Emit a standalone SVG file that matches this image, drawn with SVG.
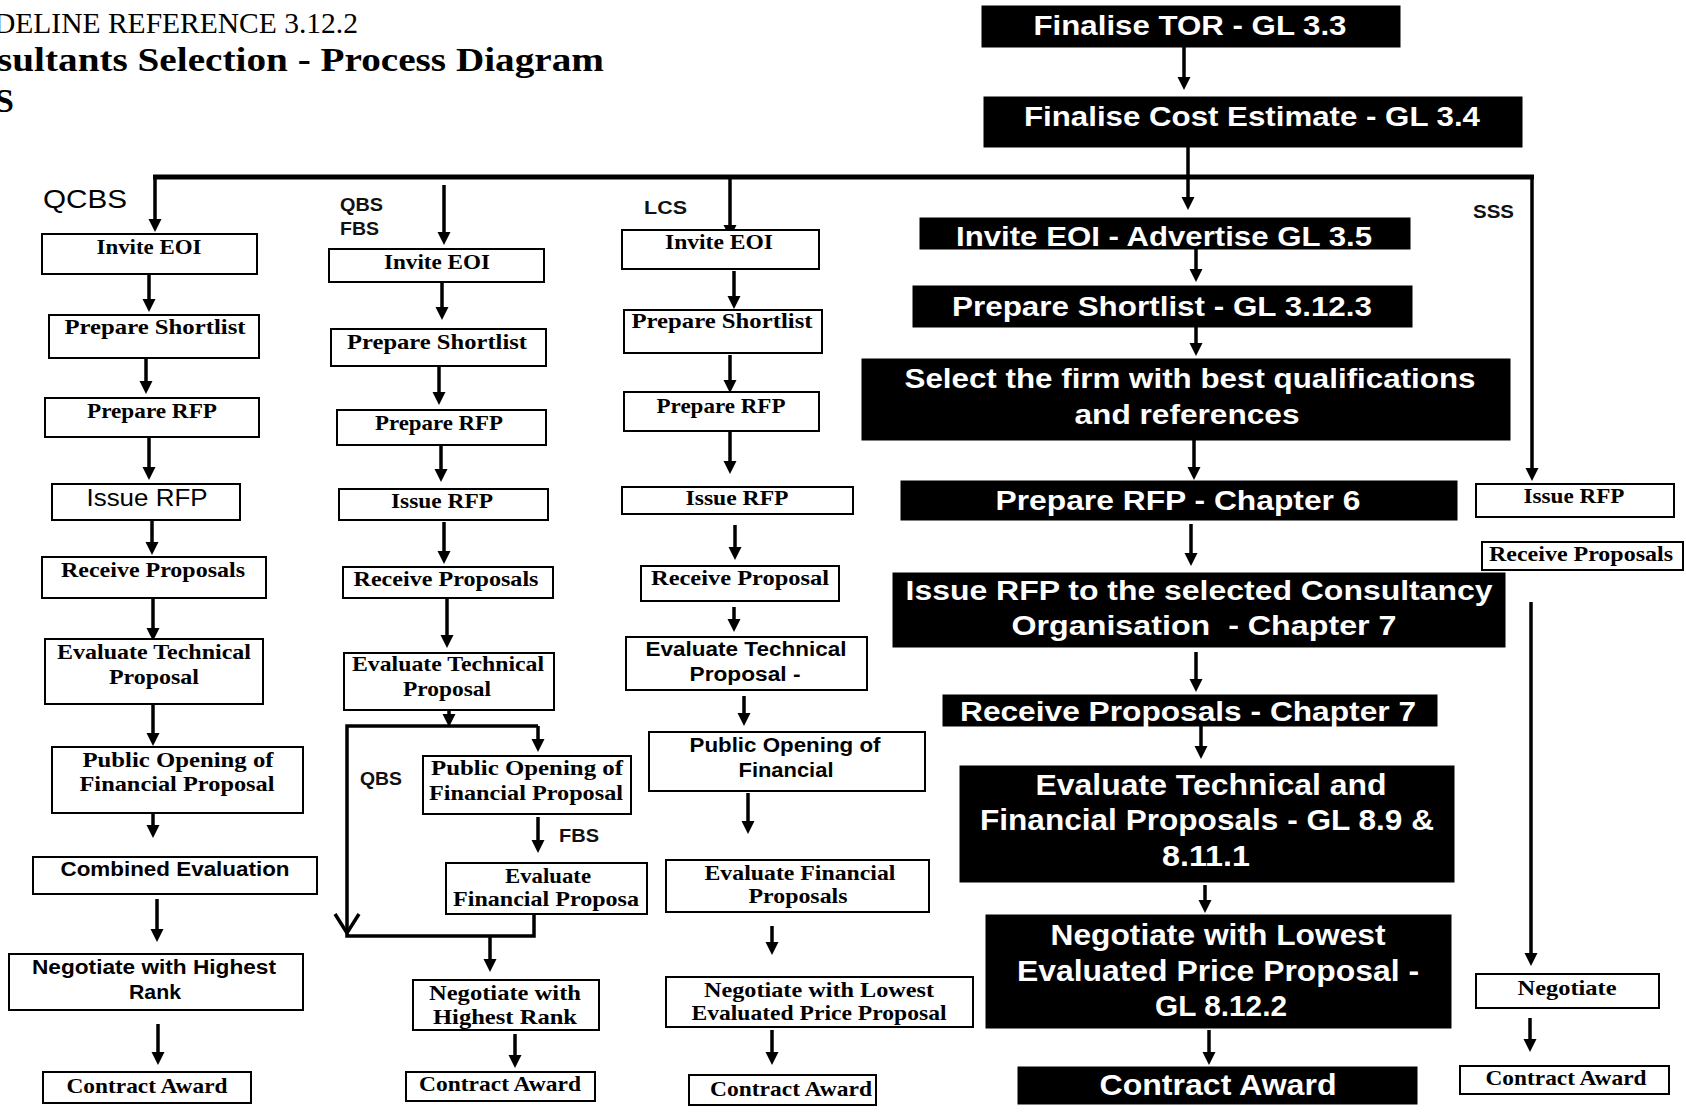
<svg xmlns="http://www.w3.org/2000/svg" width="1686" height="1112" viewBox="0 0 1686 1112">
  <defs>
    <marker id="ah" markerUnits="userSpaceOnUse" markerWidth="16" markerHeight="16" viewBox="0 0 16 16" refX="4" refY="8" orient="auto">
      <path d="M0,1.5 L13,8 L0,14.5 z" fill="#000"/>
    </marker>
  </defs>
  <style>
    .bg { fill: #fff; }
    .wbox { fill: #fff; stroke: #000; stroke-width: 2; }
    .bbox { fill: #000; stroke: #000; stroke-width: 1; }
    .ser { font-family: "Liberation Serif", "Times New Roman", serif; font-weight: bold; font-size: 21px; fill: #000; text-anchor: middle; }
    .sans { font-family: "Liberation Sans", Arial, sans-serif; font-weight: bold; font-size: 20px; fill: #000; text-anchor: middle; }
    .sansr { font-family: "Liberation Sans", Arial, sans-serif; font-weight: normal; font-size: 24px; fill: #000; text-anchor: middle; }
    .wt { font-family: "Liberation Sans", Arial, sans-serif; font-weight: bold; font-size: 27px; fill: #fff; text-anchor: middle; }
    .wt2 { font-family: "Liberation Sans", Arial, sans-serif; font-weight: bold; font-size: 30px; fill: #fff; text-anchor: middle; }
    .lbl { font-family: "Liberation Sans", Arial, sans-serif; font-weight: bold; font-size: 18px; fill: #111; }
    .arr { stroke: #000; stroke-width: 3.5; fill: none; marker-end: url(#ah); }
    .ln { stroke: #000; stroke-width: 3.5; fill: none; }
  </style>

  <rect class="bg" x="0" y="0" width="1686" height="1112"/>

  <!-- heading -->
  <g id="heading">
    <text x="-6" y="33" font-family="Liberation Serif, serif" font-size="29.5" textLength="364" lengthAdjust="spacingAndGlyphs">DELINE REFERENCE 3.12.2</text>
    <text x="-3" y="71" font-family="Liberation Serif, serif" font-weight="bold" font-size="34" textLength="607" lengthAdjust="spacingAndGlyphs">sultants Selection -  Process Diagram</text>
    <text x="-5" y="112" font-family="Liberation Serif, serif" font-weight="bold" font-size="34">S</text>
  </g>

  <!-- method labels -->
  <g id="labels">
    <text x="43" y="208" font-family="Liberation Sans, Arial, sans-serif" font-size="25" textLength="84" lengthAdjust="spacingAndGlyphs">QCBS</text>
    <text class="lbl" x="340" y="211" textLength="43" lengthAdjust="spacingAndGlyphs">QBS</text>
    <text class="lbl" x="340" y="235" textLength="39" lengthAdjust="spacingAndGlyphs">FBS</text>
    <text class="lbl" x="644" y="214" textLength="43" lengthAdjust="spacingAndGlyphs">LCS</text>
    <text class="lbl" x="1473" y="218" textLength="41" lengthAdjust="spacingAndGlyphs">SSS</text>
    <text class="lbl" x="360" y="785" textLength="42" lengthAdjust="spacingAndGlyphs">QBS</text>
    <text class="lbl" x="559" y="842" textLength="40" lengthAdjust="spacingAndGlyphs">FBS</text>
  </g>

  <!-- connectors -->
  <g id="connectors">
    <!-- distribution bus -->
    <line x1="153" y1="177" x2="1534" y2="177" stroke="#000" stroke-width="5"/>

    <!-- main column -->
    <line class="arr" x1="1184" y1="47" x2="1184" y2="81"/>
    <line class="arr" x1="1188" y1="147" x2="1188" y2="201"/>
    <line class="arr" x1="1196" y1="249" x2="1196" y2="273"/>
    <line class="arr" x1="1196" y1="327" x2="1196" y2="347"/>
    <line class="arr" x1="1194" y1="440" x2="1194" y2="471"/>
    <line class="arr" x1="1191" y1="524" x2="1191" y2="557"/>
    <line class="arr" x1="1196" y1="652" x2="1196" y2="683"/>
    <line class="arr" x1="1201" y1="726" x2="1201" y2="750"/>
    <line class="arr" x1="1205" y1="885" x2="1205" y2="904"/>
    <line class="arr" x1="1209" y1="1030" x2="1209" y2="1056"/>

    <!-- QCBS -->
    <line class="arr" x1="155" y1="177" x2="155" y2="223"/>
    <line class="arr" x1="149" y1="274" x2="149" y2="303"/>
    <line class="arr" x1="146" y1="358" x2="146" y2="385"/>
    <line class="arr" x1="149" y1="437" x2="149" y2="471"/>
    <line class="arr" x1="152" y1="514" x2="152" y2="546"/>
    <line class="arr" x1="153" y1="598" x2="153" y2="632"/>
    <line class="arr" x1="153" y1="704" x2="153" y2="737"/>
    <line class="arr" x1="153" y1="793" x2="153" y2="829"/>
    <line class="arr" x1="157" y1="899" x2="157" y2="933"/>
    <line class="arr" x1="158" y1="1024" x2="158" y2="1056"/>

    <!-- QBS / FBS -->
    <line class="arr" x1="444" y1="185" x2="444" y2="236"/>
    <line class="arr" x1="442" y1="282" x2="442" y2="311"/>
    <line class="arr" x1="439" y1="366" x2="439" y2="396"/>
    <line class="arr" x1="441" y1="444" x2="441" y2="473"/>
    <line class="arr" x1="444" y1="522" x2="444" y2="555"/>
    <line class="arr" x1="447" y1="598" x2="447" y2="639"/>
    <line class="arr" x1="449" y1="710" x2="449" y2="718"/>
    <path class="ln" d="M538,726 H347 V936 H534 V914"/>
    <polyline class="ln" points="335,914 347,933 359,914"/>
    <line class="arr" x1="538" y1="726" x2="538" y2="743"/>
    <line class="arr" x1="538" y1="817" x2="538" y2="844"/>
    <line class="arr" x1="490" y1="936" x2="490" y2="963"/>
    <line class="arr" x1="515" y1="1034" x2="515" y2="1059"/>

    <!-- LCS -->
    <line class="arr" x1="730" y1="177" x2="730" y2="229"/>
    <line class="arr" x1="734" y1="271" x2="734" y2="300"/>
    <line class="arr" x1="730" y1="355" x2="730" y2="384"/>
    <line class="arr" x1="730" y1="432" x2="730" y2="465"/>
    <line class="arr" x1="735" y1="525" x2="735" y2="551"/>
    <line class="arr" x1="734" y1="607" x2="734" y2="623"/>
    <line class="arr" x1="744" y1="696" x2="744" y2="717"/>
    <line class="arr" x1="748" y1="793" x2="748" y2="825"/>
    <line class="arr" x1="772" y1="926" x2="772" y2="946"/>
    <line class="arr" x1="772" y1="1030" x2="772" y2="1056"/>

    <!-- SSS -->
    <line class="arr" x1="1532" y1="175" x2="1532" y2="472" stroke-width="3"/>
    <line class="arr" x1="1531" y1="602" x2="1531" y2="957" stroke-width="3"/>
    <line class="arr" x1="1530" y1="1018" x2="1530" y2="1043"/>
  </g>

  <!-- main column (black) -->
  <g id="m-tor"><rect class="bbox" x="982" y="6" width="418" height="41"/>
    <text class="wt" x="1190" y="35" textLength="313" lengthAdjust="spacingAndGlyphs">Finalise TOR - GL 3.3</text></g>
  <g id="m-cost"><rect class="bbox" x="984" y="97" width="538" height="50"/>
    <text class="wt" x="1252" y="126" textLength="456" lengthAdjust="spacingAndGlyphs">Finalise Cost Estimate - GL 3.4</text></g>
  <g id="m-eoi"><rect class="bbox" x="920" y="218" width="490" height="31"/>
    <text class="wt" x="1164" y="246" textLength="416" lengthAdjust="spacingAndGlyphs">Invite EOI - Advertise GL 3.5</text></g>
  <g id="m-shortlist"><rect class="bbox" x="913" y="286" width="499" height="41"/>
    <text class="wt" x="1162" y="316" textLength="420" lengthAdjust="spacingAndGlyphs">Prepare Shortlist - GL 3.12.3</text></g>
  <g id="m-select"><rect class="bbox" x="862" y="359" width="648" height="81"/>
    <text class="wt" x="1190" y="388" textLength="571" lengthAdjust="spacingAndGlyphs">Select the firm with best qualifications</text>
    <text class="wt" x="1187" y="424" textLength="225" lengthAdjust="spacingAndGlyphs">and references</text></g>
  <g id="m-rfp"><rect class="bbox" x="901" y="481" width="556" height="39"/>
    <text class="wt" x="1178" y="510" textLength="365" lengthAdjust="spacingAndGlyphs">Prepare RFP - Chapter 6</text></g>
  <g id="m-issue"><rect class="bbox" x="893" y="573" width="612" height="74"/>
    <text class="wt" x="1199" y="600" textLength="587" lengthAdjust="spacingAndGlyphs">Issue RFP to the selected Consultancy</text>
    <text class="wt" x="1204" y="635" textLength="385" lengthAdjust="spacingAndGlyphs" xml:space="preserve">Organisation  - Chapter 7</text></g>
  <g id="m-receive"><rect class="bbox" x="943" y="695" width="494" height="31"/>
    <text class="wt" x="1188" y="721" textLength="456" lengthAdjust="spacingAndGlyphs">Receive Proposals - Chapter 7</text></g>
  <g id="m-evaluate"><rect class="bbox" x="960" y="766" width="494" height="116"/>
    <text class="wt2" x="1211" y="795" textLength="351" lengthAdjust="spacingAndGlyphs">Evaluate Technical and</text>
    <text class="wt2" x="1207" y="830" textLength="454" lengthAdjust="spacingAndGlyphs">Financial Proposals - GL 8.9 &amp;</text>
    <text class="wt2" x="1206" y="866" textLength="88" lengthAdjust="spacingAndGlyphs">8.11.1</text></g>
  <g id="m-negotiate"><rect class="bbox" x="986" y="915" width="465" height="113"/>
    <text class="wt2" x="1218" y="945" textLength="335" lengthAdjust="spacingAndGlyphs">Negotiate with Lowest</text>
    <text class="wt2" x="1218" y="981" textLength="402" lengthAdjust="spacingAndGlyphs">Evaluated Price Proposal -</text>
    <text class="wt2" x="1221" y="1016" textLength="132" lengthAdjust="spacingAndGlyphs">GL 8.12.2</text></g>
  <g id="m-award"><rect class="bbox" x="1018" y="1067" width="399" height="37"/>
    <text class="wt2" x="1218" y="1095" textLength="237" lengthAdjust="spacingAndGlyphs">Contract Award</text></g>

  <!-- QCBS column -->
  <g id="q-eoi"><rect class="wbox" x="42" y="234" width="215" height="40"/>
    <text class="ser" x="149" y="254" textLength="105" lengthAdjust="spacingAndGlyphs">Invite EOI</text></g>
  <g id="q-shortlist"><rect class="wbox" x="49" y="315" width="210" height="43"/>
    <text class="ser" x="155" y="334" textLength="181" lengthAdjust="spacingAndGlyphs">Prepare Shortlist</text></g>
  <g id="q-rfp"><rect class="wbox" x="45" y="398" width="214" height="39"/>
    <text class="ser" x="152" y="418" textLength="130" lengthAdjust="spacingAndGlyphs">Prepare RFP</text></g>
  <g id="q-issue"><rect class="wbox" x="52" y="484" width="188" height="36"/>
    <text class="sansr" x="147" y="506" textLength="121" lengthAdjust="spacingAndGlyphs">Issue RFP</text></g>
  <g id="q-receive"><rect class="wbox" x="42" y="557" width="224" height="41"/>
    <text class="ser" x="153" y="577" textLength="184" lengthAdjust="spacingAndGlyphs">Receive Proposals</text></g>
  <g id="q-tech"><rect class="wbox" x="45" y="639" width="218" height="65"/>
    <text class="ser" x="154" y="659" textLength="194" lengthAdjust="spacingAndGlyphs">Evaluate Technical</text>
    <text class="ser" x="154" y="684" textLength="90" lengthAdjust="spacingAndGlyphs">Proposal</text></g>
  <g id="q-open"><rect class="wbox" x="52" y="747" width="251" height="66"/>
    <text class="ser" x="178" y="767" textLength="191" lengthAdjust="spacingAndGlyphs">Public Opening of</text>
    <text class="ser" x="177" y="791" textLength="195" lengthAdjust="spacingAndGlyphs">Financial Proposal</text></g>
  <g id="q-combined"><rect class="wbox" x="33" y="857" width="284" height="37"/>
    <text class="sans" x="175" y="876" textLength="229" lengthAdjust="spacingAndGlyphs">Combined Evaluation</text></g>
  <g id="q-negotiate"><rect class="wbox" x="9" y="954" width="294" height="56"/>
    <text class="sans" x="154" y="974" textLength="244" lengthAdjust="spacingAndGlyphs">Negotiate with Highest</text>
    <text class="sans" x="155" y="999" textLength="52" lengthAdjust="spacingAndGlyphs">Rank</text></g>
  <g id="q-award"><rect class="wbox" x="43" y="1072" width="208" height="31"/>
    <text class="ser" x="147" y="1093" textLength="161" lengthAdjust="spacingAndGlyphs">Contract Award</text></g>

  <!-- QBS / FBS column -->
  <g id="b-eoi"><rect class="wbox" x="329" y="249" width="215" height="33"/>
    <text class="ser" x="437" y="269" textLength="106" lengthAdjust="spacingAndGlyphs">Invite EOI</text></g>
  <g id="b-shortlist"><rect class="wbox" x="331" y="329" width="215" height="37"/>
    <text class="ser" x="437" y="349" textLength="180" lengthAdjust="spacingAndGlyphs">Prepare Shortlist</text></g>
  <g id="b-rfp"><rect class="wbox" x="337" y="410" width="209" height="35"/>
    <text class="ser" x="439" y="430" textLength="128" lengthAdjust="spacingAndGlyphs">Prepare RFP</text></g>
  <g id="b-issue"><rect class="wbox" x="339" y="489" width="209" height="31"/>
    <text class="ser" x="442" y="508" textLength="102" lengthAdjust="spacingAndGlyphs">Issue RFP</text></g>
  <g id="b-receive"><rect class="wbox" x="343" y="567" width="210" height="31"/>
    <text class="ser" x="446" y="586" textLength="185" lengthAdjust="spacingAndGlyphs">Receive Proposals</text></g>
  <g id="b-tech"><rect class="wbox" x="344" y="653" width="210" height="57"/>
    <text class="ser" x="448" y="671" textLength="192" lengthAdjust="spacingAndGlyphs">Evaluate Technical</text>
    <text class="ser" x="447" y="696" textLength="88" lengthAdjust="spacingAndGlyphs">Proposal</text></g>
  <g id="b-open"><rect class="wbox" x="423" y="756" width="208" height="58"/>
    <text class="ser" x="527" y="775" textLength="192" lengthAdjust="spacingAndGlyphs">Public Opening of</text>
    <text class="ser" x="526" y="800" textLength="194" lengthAdjust="spacingAndGlyphs">Financial Proposal</text></g>
  <g id="b-fin"><rect class="wbox" x="446" y="863" width="201" height="51"/>
    <text class="ser" x="548" y="883" textLength="86" lengthAdjust="spacingAndGlyphs">Evaluate</text>
    <text class="ser" x="546" y="906" textLength="186" lengthAdjust="spacingAndGlyphs">Financial Proposa</text></g>
  <g id="b-negotiate"><rect class="wbox" x="413" y="980" width="186" height="50"/>
    <text class="ser" x="505" y="1000" textLength="152" lengthAdjust="spacingAndGlyphs">Negotiate with</text>
    <text class="ser" x="505" y="1024" textLength="144" lengthAdjust="spacingAndGlyphs">Highest Rank</text></g>
  <g id="b-award"><rect class="wbox" x="406" y="1072" width="189" height="29"/>
    <text class="ser" x="500" y="1091" textLength="162" lengthAdjust="spacingAndGlyphs">Contract Award</text></g>

  <!-- LCS column -->
  <g id="l-eoi"><rect class="wbox" x="622" y="230" width="197" height="39"/>
    <text class="ser" x="719" y="249" textLength="108" lengthAdjust="spacingAndGlyphs">Invite EOI</text></g>
  <g id="l-shortlist"><rect class="wbox" x="624" y="310" width="198" height="43"/>
    <text class="ser" x="722" y="328" textLength="181" lengthAdjust="spacingAndGlyphs">Prepare Shortlist</text></g>
  <g id="l-rfp"><rect class="wbox" x="624" y="392" width="195" height="39"/>
    <text class="ser" x="721" y="413" textLength="129" lengthAdjust="spacingAndGlyphs">Prepare RFP</text></g>
  <g id="l-issue"><rect class="wbox" x="622" y="487" width="231" height="27"/>
    <text class="ser" x="737" y="505" textLength="103" lengthAdjust="spacingAndGlyphs">Issue RFP</text></g>
  <g id="l-receive"><rect class="wbox" x="641" y="566" width="198" height="35"/>
    <text class="ser" x="740" y="585" textLength="178" lengthAdjust="spacingAndGlyphs">Receive Proposal</text></g>
  <g id="l-tech"><rect class="wbox" x="626" y="637" width="241" height="53"/>
    <text class="sans" x="746" y="656" textLength="201" lengthAdjust="spacingAndGlyphs">Evaluate Technical</text>
    <text class="sans" x="745" y="681" textLength="111" lengthAdjust="spacingAndGlyphs">Proposal -</text></g>
  <g id="l-open"><rect class="wbox" x="649" y="732" width="276" height="59"/>
    <text class="sans" x="785" y="752" textLength="191" lengthAdjust="spacingAndGlyphs">Public Opening of</text>
    <text class="sans" x="786" y="777" textLength="95" lengthAdjust="spacingAndGlyphs">Financial</text></g>
  <g id="l-fin"><rect class="wbox" x="666" y="860" width="263" height="52"/>
    <text class="ser" x="800" y="880" textLength="191" lengthAdjust="spacingAndGlyphs">Evaluate Financial</text>
    <text class="ser" x="798" y="903" textLength="99" lengthAdjust="spacingAndGlyphs">Proposals</text></g>
  <g id="l-negotiate"><rect class="wbox" x="666" y="977" width="307" height="50"/>
    <text class="ser" x="819" y="997" textLength="230" lengthAdjust="spacingAndGlyphs">Negotiate with Lowest</text>
    <text class="ser" x="819" y="1020" textLength="255" lengthAdjust="spacingAndGlyphs">Evaluated Price Proposal</text></g>
  <g id="l-award"><rect class="wbox" x="689" y="1075" width="187" height="30"/>
    <text class="ser" x="791" y="1096" textLength="162" lengthAdjust="spacingAndGlyphs">Contract Award</text></g>

  <!-- SSS column -->
  <g id="s-issue"><rect class="wbox" x="1476" y="484" width="198" height="33"/>
    <text class="ser" x="1574" y="503" textLength="101" lengthAdjust="spacingAndGlyphs">Issue RFP</text></g>
  <g id="s-receive"><rect class="wbox" x="1482" y="542" width="201" height="28"/>
    <text class="ser" x="1581" y="561" textLength="184" lengthAdjust="spacingAndGlyphs">Receive Proposals</text></g>
  <g id="s-negotiate"><rect class="wbox" x="1476" y="974" width="183" height="34"/>
    <text class="ser" x="1567" y="995" textLength="99" lengthAdjust="spacingAndGlyphs">Negotiate</text></g>
  <g id="s-award"><rect class="wbox" x="1460" y="1066" width="209" height="28"/>
    <text class="ser" x="1566" y="1085" textLength="161" lengthAdjust="spacingAndGlyphs">Contract Award</text></g>
</svg>
